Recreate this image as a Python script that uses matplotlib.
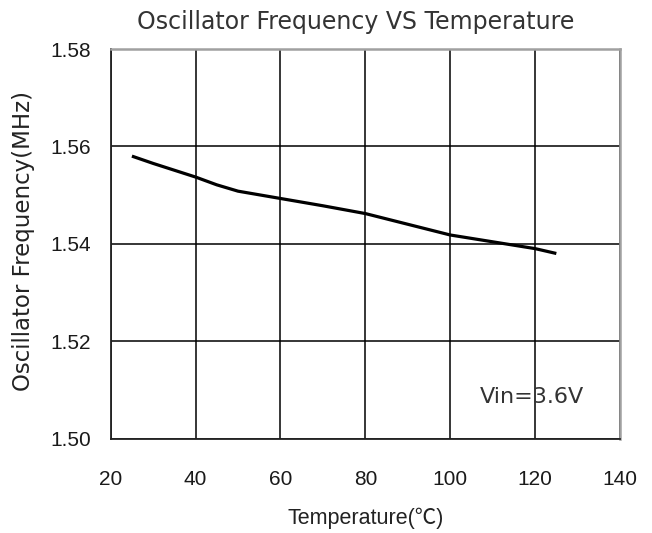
import matplotlib.pyplot as plt

# values
temperature = [25, 30, 40, 45, 50, 60, 70, 80, 90, 100, 110, 120, 125]
frequency = [1.5580, 1.5565, 1.5537, 1.5521, 1.5508, 1.5493, 1.5478,
             1.5462, 1.5440, 1.5418, 1.5404, 1.5390, 1.5380]
x_ticks = [20, 40, 60, 80, 100, 120, 140]
y_ticks = [1.50, 1.52, 1.54, 1.56, 1.58]

plt.rcParams['font.family'] = ['Liberation Sans', 'Noto Sans CJK SC', 'DejaVu Sans']
wide = ['DejaVu Sans', 'Noto Sans CJK SC']

fig = plt.figure(figsize=(6.52, 5.33), dpi=100)
ax = fig.add_axes([110.7 / 652, 1 - 438.5 / 533, 509.3 / 652, 389.5 / 533])

ax.plot(temperature, frequency, color='black', linewidth=2.3,
        solid_capstyle='butt', solid_joinstyle='round')

ax.set_xlim(20, 140)
ax.set_ylim(1.50, 1.58)
ax.set_xticks(x_ticks)
ax.set_yticks(y_ticks)
ax.set_yticklabels(['%.2f' % v for v in y_ticks])
ax.tick_params(length=0, labelsize=15, labelcolor='#1a1a1a')
ax.tick_params(axis='x', pad=23)
ax.tick_params(axis='y', pad=14)
ax.grid(True, color='black', linewidth=1.1)

for side in ['left', 'bottom']:
    ax.spines[side].set_color('#222222')
    ax.spines[side].set_linewidth(1.3)
for side in ['top', 'right']:
    ax.spines[side].set_color('#a0a0a0')
    ax.spines[side].set_linewidth(1.8)

ax.text(106.9, 1.5086, 'Vin=3.6V', fontsize=16, color='#333333', va='center',
        family=wide)

fig.text(356 / 652, 1 - 22 / 533, 'Oscillator Frequency VS Temperature',
         fontsize=17, color='#333333', ha='center', va='center', family=wide)
ax.set_xlabel('Temperature(℃)', fontsize=15.5, color='#222222', labelpad=13)
fig.text(24 / 652, 1 - 241 / 533, 'Oscillator Frequency(MHz)', fontsize=16.5,
         color='#222222', rotation=90, ha='center', va='center', family=wide)

fig.savefig('out.png', dpi=100)
